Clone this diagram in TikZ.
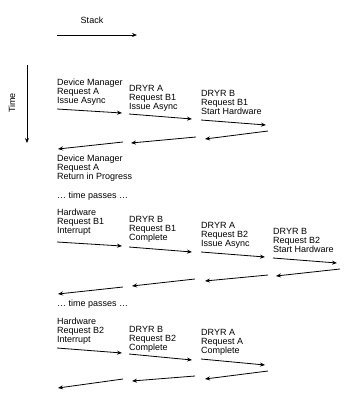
\documentclass[tikz,border=0pt]{standalone}
\usepackage{fontspec}
\setmainfont{Liberation Sans}
\usetikzlibrary{arrows.meta}
\begin{document}
\begin{tikzpicture}[x=1bp,y=-1bp,
  lbl/.style={anchor=north west,inner sep=0pt,align=left,font=\fontsize{9bp}{9bp}\selectfont},
  flow/.style={line width=0.8bp,-{Stealth[length=5bp,width=4bp]}}]
\useasboundingbox (0,0) rectangle (359,410);
% headers
\node[font=\fontsize{9bp}{9bp}\selectfont,inner sep=0pt] (stack) at (92,20) {Stack};
\coordinate (s0) at (57,35); \coordinate (s1) at (137,35);
\draw[flow] (s0) -- (s1);
\node[font=\fontsize{9bp}{9bp}\selectfont,inner sep=0pt,rotate=90] (time) at (12,103) {Time};
\coordinate (v0) at (27,65); \coordinate (v1) at (27,143);
\draw[flow] (v0) -- (v1);
% row 1
\node[lbl] (a1) at (57,79) {Device Manager\\Request A\\Issue Async};
\node[lbl] (a2) at (129,85) {DRYR A\\Request B1\\Issue Async};
\node[lbl] (a3) at (201,90) {DRYR B\\Request B1\\Start Hardware};
\coordinate (p1) at (57,109);  \coordinate (q1) at (122,113);
\coordinate (p2) at (129,114); \coordinate (q2) at (192,119);
\coordinate (p3) at (201,120); \coordinate (q3) at (266,125);
\draw[flow] (p1) -- (q1);
\draw[flow] (p2) -- (q2);
\draw[flow] (p3) -- (q3);
\coordinate (r1) at (268,131); \coordinate (u1) at (205,139);
\coordinate (r2) at (196,137); \coordinate (u2) at (131,143);
\coordinate (r3) at (123,142); \coordinate (u3) at (58,149);
\draw[flow] (r1) -- (u1);
\draw[flow] (r2) -- (u2);
\draw[flow] (r3) -- (u3);
\node[lbl] (a4) at (57,155) {Device Manager\\Request A\\Return in Progress};
\node[lbl] (tp1) at (57,192) {\dots\ time passes \dots};
% row 2
\node[lbl] (b1) at (57,209) {Hardware\\Request B1\\Interrupt};
\node[lbl] (b2) at (129,216) {DRYR B\\Request B1\\Complete};
\node[lbl] (b3) at (201,222) {DRYR A\\Request B2\\Issue Async};
\node[lbl] (b4) at (273,228) {DRYR B\\Request B2\\Start Hardware};
\coordinate (bp1) at (57,242);  \coordinate (bq1) at (122,246);
\coordinate (bp2) at (129,247); \coordinate (bq2) at (192,252);
\coordinate (bp3) at (201,252); \coordinate (bq3) at (265,257);
\coordinate (bp4) at (273,258); \coordinate (bq4) at (337,263);
\draw[flow] (bp1) -- (bq1);
\draw[flow] (bp2) -- (bq2);
\draw[flow] (bp3) -- (bq3);
\draw[flow] (bp4) -- (bq4);
\coordinate (br1) at (340,269); \coordinate (bu1) at (276,276);
\coordinate (br2) at (268,275); \coordinate (bu2) at (205,281);
\coordinate (br3) at (195,279); \coordinate (bu3) at (132,286);
\coordinate (br4) at (123,287); \coordinate (bu4) at (58,294);
\draw[flow] (br1) -- (bu1);
\draw[flow] (br2) -- (bu2);
\draw[flow] (br3) -- (bu3);
\draw[flow] (br4) -- (bu4);
\node[lbl] (tp2) at (57,300) {\dots\ time passes \dots};
% row 3
\node[lbl] (c1) at (57,318) {Hardware\\Request B2\\Interrupt};
\node[lbl] (c2) at (129,326) {DRYR B\\Request B2\\Complete};
\node[lbl] (c3) at (201,329) {DRYR A\\Request A\\Complete};
\coordinate (cp1) at (57,348);  \coordinate (cq1) at (122,353);
\coordinate (cp2) at (129,354); \coordinate (cq2) at (192,360);
\coordinate (cp3) at (201,359); \coordinate (cq3) at (265,365);
\draw[flow] (cp1) -- (cq1);
\draw[flow] (cp2) -- (cq2);
\draw[flow] (cp3) -- (cq3);
\coordinate (cr1) at (268,371); \coordinate (cu1) at (205,379);
\coordinate (cr2) at (195,376); \coordinate (cu2) at (132,381);
\coordinate (cr3) at (123,379); \coordinate (cu3) at (58,388);
\draw[flow] (cr1) -- (cu1);
\draw[flow] (cr2) -- (cu2);
\draw[flow] (cr3) -- (cu3);
\end{tikzpicture}
\end{document}
